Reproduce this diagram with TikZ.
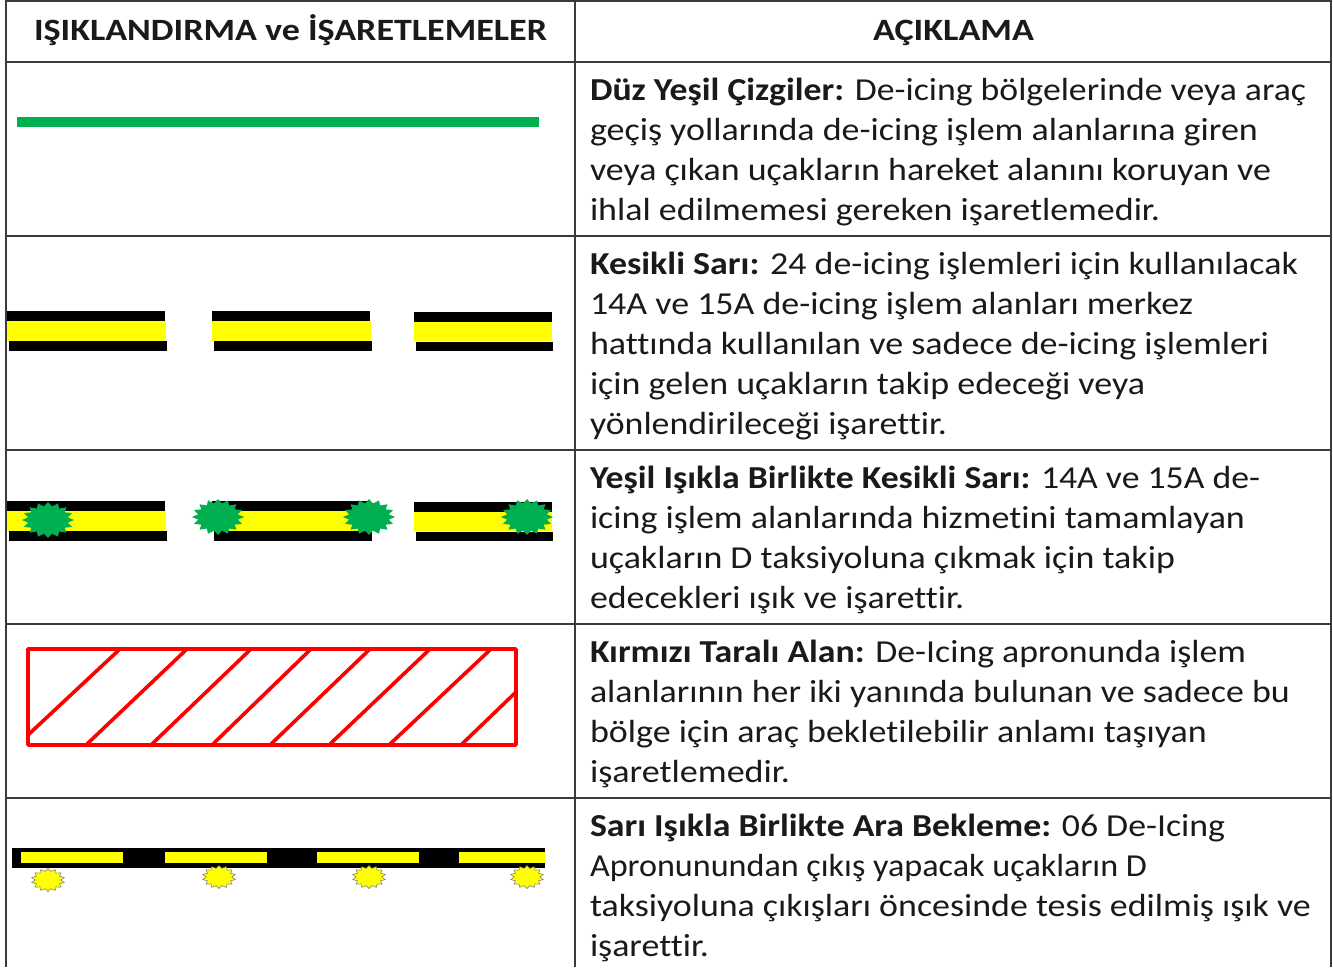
\documentclass[tikz,border=0pt]{standalone}
\usepackage{fontspec}
\usetikzlibrary{shapes.geometric}
\setmainfont[Ligatures=NoCommon]{Carlito}
\newsavebox{\fitbox}
\newcommand{\fitline}[2]{\sbox{\fitbox}{#2}\pgfmathsetmacro{\fitratio}{#1/(\wd\fitbox/1pt)}\scalebox{\fitratio}[1]{\usebox{\fitbox}}}
\definecolor{gridc}{RGB}{58,58,58}
\definecolor{gline}{RGB}{0,176,80}
\definecolor{ylwc}{RGB}{255,255,0}
\definecolor{redc}{RGB}{255,0,0}
\definecolor{textc}{RGB}{26,26,26}
\tikzset{
  x=1pt,y=-1pt,
  body/.style={anchor=base west,inner sep=0pt,outer sep=0pt,font=\fontsize{32}{36}\selectfont,text=textc},
  head/.style={anchor=base,inner sep=0pt,outer sep=0pt,font=\fontsize{31}{36}\selectfont\bfseries,text=textc},
  grid/.style={draw=gridc,line width=1.6pt},
  blk/.style={fill=black},
  ylw/.style={fill=ylwc},
  hatch/.style={draw=redc,line width=3.6pt},
  gstar/.style={star,star points=16,star point ratio=1.3,inner sep=0pt,minimum size=36pt,fill=gline,xscale=1.45,transform shape},
  ystar/.style={star,star points=14,star point ratio=1.3,inner sep=0pt,minimum size=23pt,fill=ylwc,draw=black!55,line width=.5pt,xscale=1.45,transform shape},
}
\newcommand{\bardash}[6]{% x1 x2 x3 top-y / offsets
  \fill[blk] (#1,#4) rectangle (#2,#4+10);
  \fill[ylw] (#1,#4+10) rectangle (#2+1,#4+#5);
  \fill[blk] (#1+2,#4+#5) rectangle (#2+2,#4+#6);
}
\begin{document}
\begin{tikzpicture}
\useasboundingbox (0,0) rectangle (1333,967);
\fill[white] (0,0) rectangle (1333,967);
% grid
\draw[grid] (6,967) -- (6,1) -- (1331,1) -- (1331,967);
\draw[grid] (575,1) -- (575,967);
\foreach \yy in {62,236,450,624,798} \draw[grid] (6,\yy) -- (1331,\yy);
% header
\node[head] (h1) at (290.5,40) {\fitline{513}{IŞIKLANDIRMA ve İŞARETLEMELER}};
\node[head] (h2) at (953.5,40) {\fitline{161}{AÇIKLAMA}};
% row 1
\fill[gline] (17,117) rectangle (539,127);
% row 2
\bardash{7}{165}{}{311}{30}{40}
\bardash{212}{370}{}{311}{30}{40}
\fill[blk] (414,312) rectangle (552,322);
\fill[ylw] (414,322) rectangle (552,341);
\fill[blk] (416,342) rectangle (553,351);
% row 3
\bardash{7}{165}{}{501}{30}{40}
\bardash{212}{370}{}{501}{30}{40}
\fill[blk] (414,502) rectangle (552,512);
\fill[ylw] (414,512) rectangle (552,531);
\fill[blk] (416,532) rectangle (553,541);
\node[gstar] (g1) at (48,520) {};
\node[gstar] (g2) at (218,517) {};
\node[gstar] (g3) at (369,517) {};
\node[gstar] (g4) at (527,517) {};
% row 4
\draw[hatch,line join=round] (28,649) rectangle (516,745);
\draw[hatch] (28,735) -- (120,649);
\draw[hatch] (86,745) -- (187,649);
\draw[hatch] (151,745) -- (251,649);
\draw[hatch] (212,745) -- (311,649);
\draw[hatch] (270,745) -- (370,649);
\draw[hatch] (329,745) -- (430,649);
\draw[hatch] (389,745) -- (491,649);
\draw[hatch] (461,745) -- (516,692);
% row 5
\fill[blk] (12,848) rectangle (545,868);
\foreach \xa/\xb in {21/123,165/267,317/419,459/545} \fill[ylw] (\xa,852) rectangle (\xb,863);
\node[ystar] (y1) at (48,880) {};
\node[ystar] (y2) at (219,877) {};
\node[ystar] (y3) at (369,877) {};
\node[ystar] (y4) at (527,877) {};
% text
\node[body] (t11) at (590,100.5) {\fitline{716}{\textbf{Düz Yeşil Çizgiler:} De-icing bölgelerinde veya araç}};
\node[body] (t12) at (590,140.5) {\fitline{668}{geçiş yollarında de-icing işlem alanlarına giren}};
\node[body] (t13) at (590,180.5) {\fitline{681}{veya çıkan uçakların hareket alanını koruyan ve}};
\node[body] (t14) at (590,220.5) {\fitline{570}{ihlal edilmemesi gereken işaretlemedir.}};
\node[body] (t21) at (590,274.5) {\fitline{708}{\textbf{Kesikli Sarı:} 24 de-icing işlemleri için kullanılacak}};
\node[body] (t22) at (590,314.5) {\fitline{603}{14A ve 15A de-icing işlem alanları merkez}};
\node[body] (t23) at (590,354.5) {\fitline{679}{hattında kullanılan ve sadece de-icing işlemleri}};
\node[body] (t24) at (590,394.5) {\fitline{555}{için gelen uçakların takip edeceği veya}};
\node[body] (t25) at (590,434.5) {\fitline{357}{yönlendirileceği işarettir.}};
\node[body] (t31) at (590,488.5) {\fitline{670}{\textbf{Yeşil Işıkla Birlikte Kesikli Sarı:} 14A ve 15A de-}};
\node[body] (t32) at (590,528.5) {\fitline{655}{icing işlem alanlarında hizmetini tamamlayan}};
\node[body] (t33) at (590,568.5) {\fitline{585}{uçakların D taksiyoluna çıkmak için takip}};
\node[body] (t34) at (590,608.5) {\fitline{374}{edecekleri ışık ve işarettir.}};
\node[body] (t41) at (590,662.5) {\fitline{656}{\textbf{Kırmızı Taralı Alan:} De-Icing apronunda işlem}};
\node[body] (t42) at (590,702.5) {\fitline{700}{alanlarının her iki yanında bulunan ve sadece bu}};
\node[body] (t43) at (590,742.5) {\fitline{617}{bölge için araç bekletilebilir anlamı taşıyan}};
\node[body] (t44) at (590,782.5) {\fitline{200}{işaretlemedir.}};
\node[body] (t51) at (590,836.5) {\fitline{635}{\textbf{Sarı Işıkla Birlikte Ara Bekleme:} 06 De-Icing}};
\node[body] (t52) at (590,876.5) {\fitline{557}{Apronunundan çıkış yapacak uçakların D}};
\node[body] (t53) at (590,916.5) {\fitline{721}{taksiyoluna çıkışları öncesinde tesis edilmiş ışık ve}};
\node[body] (t54) at (590,956.5) {\fitline{119}{işarettir.}};
\end{tikzpicture}
\end{document}
